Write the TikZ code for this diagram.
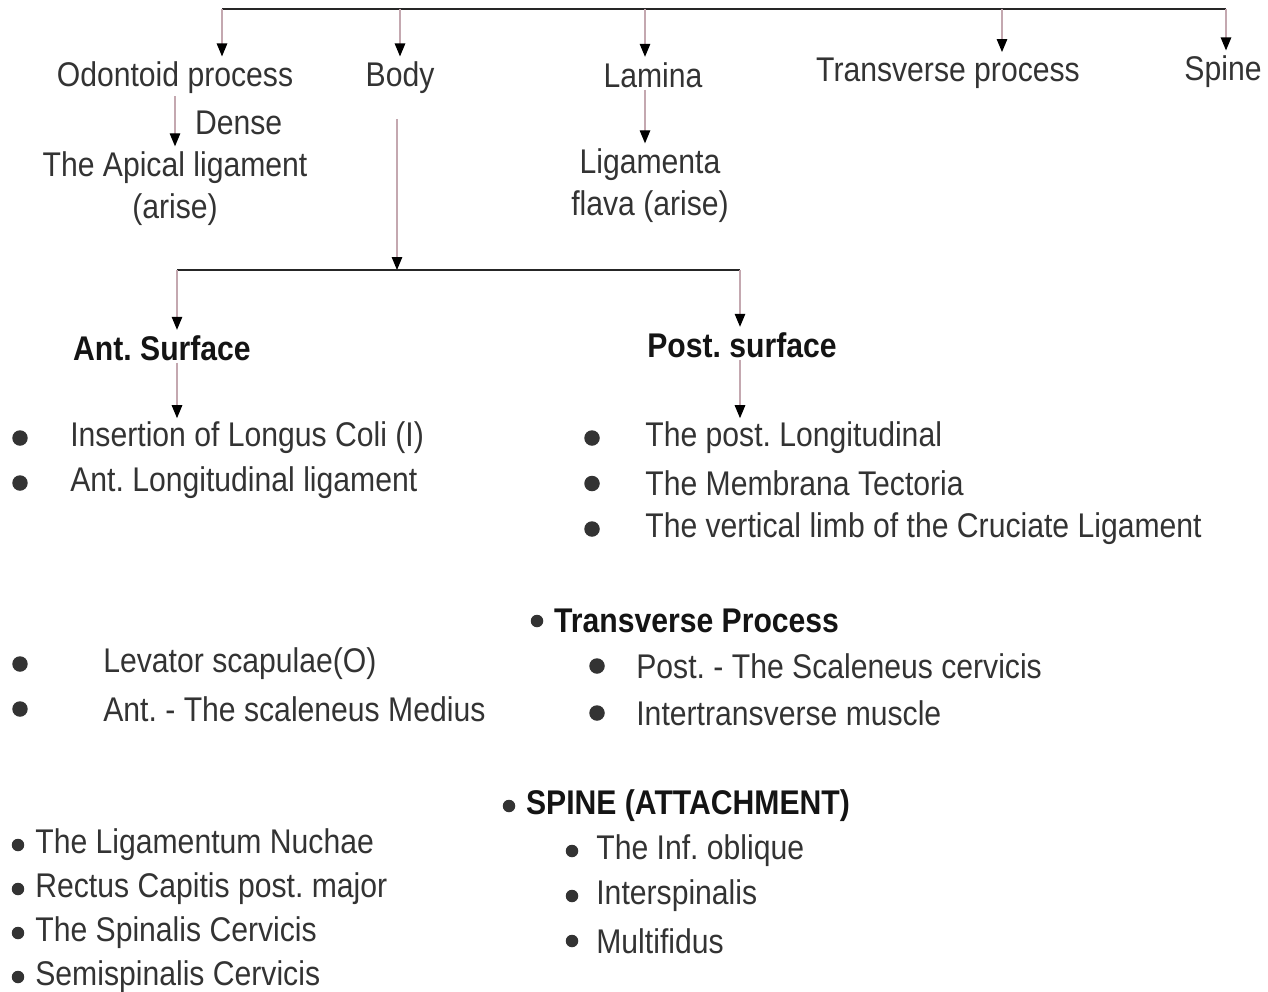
\documentclass[tikz,border=0pt]{standalone}
\usepackage{fontspec}
\setmainfont{Liberation Sans}[FakeStretch=0.88]
\usepackage{xcolor}
\usepackage{tikz}
\usetikzlibrary{positioning, arrows.meta, calc}
\definecolor{shaft}{RGB}{196,168,176}
\frenchspacing

\begin{document}
\begin{tikzpicture}[x=0.02cm, y=-0.02cm,
          font=\fontsize{19.5}{24}\selectfont,
          lbl/.style={text=black!80, inner sep=1pt, align=center},
          head/.style={lbl, text=black!92, font=\fontsize{19.5}{24}\selectfont\bfseries},
          item/.style={lbl, anchor=west, inner sep=0pt},
          dot/.style={circle, fill=black!80, minimum size=3.1mm, inner sep=0pt},
          sdot/.style={dot, minimum size=2.5mm},
          bar/.style={line width=1.1pt, black!85},
          ar/.style={shaft, line width=0.7pt, shorten >=2pt, -{Triangle[length=2.6mm, width=2.1mm, color=black]}}]
        \useasboundingbox (0,0) rectangle (1268,991);
        % first row
        \node[lbl] (odon) at (175,78) {Odontoid process};
        \node[lbl] (body) at (400,78) {Body};
        \node[lbl] (lamina) at (653,75) {Lamina};
        \node[lbl] (trans) at (948,73) {Transverse process};
        \node[lbl] (spine) at (1223,72) {Spine};
        \coordinate (jOd) at (222,9); \coordinate (jBo) at (400,9); \coordinate (jLa) at (645,9);
        \coordinate (jTr) at (1002,9); \coordinate (jSp) at (1226,9);
        \draw[bar] (jOd) -- (jSp);
        \draw[ar] (jOd) -- (jOd |- odon.north); \draw[ar] (jBo) -- (jBo |- body.north);
        \draw[ar] (jLa) -- (jLa |- lamina.north); \draw[ar] (jTr) -- (jTr |- trans.north);
        \draw[ar] (jSp) -- (jSp |- spine.north);
        % odontoid and lamina
        \node[lbl] (apical) at (175,189) {The Apical ligament\\(arise)};
        \node[lbl, anchor=west] (dense) at (193,123) {Dense};
        \node[lbl] (flava) at (650,186) {Ligamenta\\flava (arise)};
        \draw[ar] (odon.south) -- (odon.south |- apical.north);
        \draw[ar] (jLa |- lamina.south) -- (jLa |- flava.north);
        % body
        \coordinate (jBody) at (397,270); \coordinate (jAnt) at (177,270); \coordinate (jPost) at (740,270);
        \draw[ar, shorten <=13pt, shorten >=0pt] (jBody |- body.south) -- (jBody);
        \draw[bar] (jAnt) -- (jPost);
        \node[head] (ant) at (162,348) {Ant. Surface};
        \node[head] (post) at (742,345) {Post. surface};
        \draw[ar] (jAnt) -- (jAnt |- ant.north); \draw[ar] (jPost) -- (jPost |- post.north);
        \foreach \txt [count=\i] in {Insertion of Longus Coli (I), Ant. Longitudinal ligament} {
          \node[dot] (antb\i) at (20,{438+45*(\i-1)}) {};
          \node[item] (antt\i) at (70,{438+45*(\i-1)}) {\txt};
        }
        \foreach \txt [count=\i] in {The post. Longitudinal, The Membrana Tectoria,
            The vertical limb of the Cruciate Ligament} {
          \node[dot] (postb\i) at (592,{438+45.5*(\i-1)}) {};
          \node[item] (postt\i) at (645,{438+45.5*(\i-1)}) {\txt};
        }
        \draw[ar] (jAnt |- ant.south) -- (jAnt |- antt1.north);
        \draw[ar] (jPost |- post.south) -- (jPost |- postt1.north);
        % transverse process
        \node[sdot] (tpb) at (537,621) {};
        \node[head, anchor=west] (tp) at (552,621) {Transverse Process};
        \foreach \txt [count=\i] in {Post. - The Scaleneus cervicis, Intertransverse muscle} {
          \node[dot] (tpsb\i) at (597,{666+47*(\i-1)}) {};
          \node[item] (tpst\i) at (636,{666+47*(\i-1)}) {\txt};
        }
        \foreach \txt [count=\i] in {Levator scapulae(O), Ant. - The scaleneus Medius} {
          \node[dot] (tplb\i) at (20,{664+45*(\i-1)}) {};
          \node[item] (tplt\i) at (103,{664+45*(\i-1)}) {\txt};
        }
        % spine
        \node[sdot] (spb) at (509,806) {};
        \node[head, anchor=west] (sp) at (524,806) {SPINE (ATTACHMENT)};
        \foreach \txt [count=\i] in {The Inf. oblique, Interspinalis, Multifidus} {
          \node[sdot] (spsb\i) at (572,{851+45*(\i-1)}) {};
          \node[item] (spst\i) at (596,{851+45*(\i-1)}) {\txt};
        }
        \foreach \txt [count=\i] in {The Ligamentum Nuchae, Rectus Capitis post. major,
            The Spinalis Cervicis, Semispinalis Cervicis} {
          \node[sdot] (splb\i) at (18,{845+44*(\i-1)}) {};
          \node[item] (splt\i) at (35,{845+44*(\i-1)}) {\txt};
        }
      \end{tikzpicture}
\end{document}
